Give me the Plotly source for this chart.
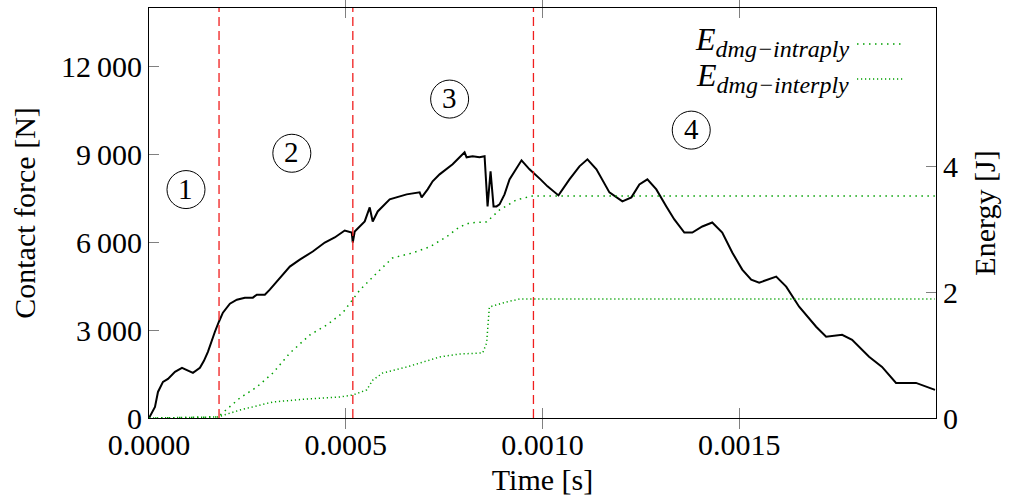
import plotly.graph_objects as go

# ---------------- data ----------------
force_t = [0, 15.2e-6, 22.8e-6, 35.5e-6, 48.2e-6, 66e-6, 83.8e-6, 99e-6, 111.7e-6, 129.4e-6,
           139.6e-6, 149.7e-6, 159.9e-6, 167.5e-6, 177.7e-6, 187.8e-6, 205.6e-6, 223.3e-6, 243.6e-6, 264e-6,
           274e-6, 294.4e-6, 307e-6, 332.5e-6, 357.9e-6, 383.2e-6, 416.2e-6, 446.7e-6, 472e-6, 497.4e-6,
           515.2e-6, 517.8e-6, 522.8e-6, 548.2e-6, 555.8e-6, 560.9e-6, 568.5e-6, 581.2e-6, 611.7e-6, 654.8e-6,
           687.8e-6, 692.9e-6, 708.1e-6, 720.8e-6, 738.5e-6, 756.3e-6, 771.6e-6, 789.3e-6, 802e-6, 807.1e-6,
           822.3e-6, 840e-6, 852.8e-6, 860.4e-6, 868e-6, 875.6e-6, 883.2e-6, 890.8e-6, 903.5e-6, 916.2e-6,
           931.5e-6, 946.7e-6, 967e-6, 982.2e-6, 994.9e-6, 1012.7e-6, 1030.4e-6, 1040.6e-6, 1068.5e-6, 1093.9e-6,
           1114.2e-6, 1137.1e-6, 1170e-6, 1203e-6, 1225.9e-6, 1246.2e-6, 1266.5e-6, 1289.3e-6, 1314.7e-6, 1335e-6,
           1360.4e-6, 1380.7e-6, 1406.1e-6, 1431.4e-6, 1456.8e-6, 1482.2e-6, 1507.6e-6, 1530.4e-6, 1550.7e-6, 1571e-6,
           1593.9e-6, 1619.3e-6, 1652.2e-6, 1695.4e-6, 1720.8e-6, 1761.4e-6, 1786.8e-6, 1829.9e-6, 1862.9e-6, 1898.4e-6,
           1949.2e-6, 1997.5e-6]
force_N = [0, 377, 890, 1233, 1335, 1575, 1712, 1609, 1541, 1712,
           1952, 2260, 2671, 2945, 3287, 3595, 3903, 4040, 4109, 4109,
           4212, 4212, 4383, 4794, 5170, 5410, 5684, 5992, 6163, 6403,
           6334, 5992, 6369, 6711, 6985, 7190, 6711, 7053, 7464, 7636,
           7704, 7533, 7807, 8081, 8320, 8492, 8663, 8902, 9074, 8902,
           8937, 8902, 8937, 7225, 8423, 7225, 7225, 7293, 7636, 8149,
           8492, 8800, 8492, 8320, 8149, 7909, 7704, 7601, 8149, 8594,
           8834, 8492, 7704, 7396, 7533, 7978, 8149, 7807, 7225, 6780,
           6334, 6334, 6540, 6677, 6334, 5650, 5068, 4725, 4622, 4725,
           4828, 4485, 3801, 3116, 2773, 2842, 2671, 2089, 1746, 1198,
           1198, 959]

intra_t = [0, 175e-6, 231e-6, 274e-6, 315e-6, 358e-6, 409e-6, 452e-6, 492e-6, 518e-6,
           536e-6, 579e-6, 619e-6, 670e-6, 713e-6, 756e-6, 789e-6, 815e-6, 858e-6, 891e-6,
           934e-6, 975e-6, 1997e-6]
intra_E = [0, 0.016, 0.318, 0.493, 0.716, 1.034, 1.321, 1.480, 1.671, 1.877,
           2.037, 2.307, 2.546, 2.625, 2.721, 2.880, 3.039, 3.103, 3.119, 3.309,
           3.469, 3.532, 3.532]

inter_t = [0, 175e-6, 231e-6, 315e-6, 401e-6, 485e-6, 518e-6, 553e-6, 569e-6, 594e-6,
           655e-6, 695e-6, 739e-6, 789e-6, 848e-6, 858e-6, 865e-6, 909e-6, 942e-6, 1997e-6]
inter_E = [0, 0.016, 0.127, 0.255, 0.302, 0.334, 0.366, 0.446, 0.605, 0.716,
           0.811, 0.891, 0.971, 1.018, 1.034, 1.193, 1.766, 1.846, 1.893, 1.893]

phase_bounds = [0.000178, 0.000518, 0.000977]
phase_labels = ["1", "2", "3", "4"]
phase_label_t = [0.000094, 0.000363, 0.000764, 0.001378]
phase_label_F = [7800, 9040, 10890, 9830]

legend_names = ["<i>E</i><sub><i><span style='font-size:24px'>dmg\u2212intraply</span></i></sub>",
                "<i>E</i><sub><i><span style='font-size:24px'>dmg\u2212interply</span></i></sub>"]

x_ticks = [0, 0.0005, 0.0010, 0.0015]
f_ticks = [0, 3000, 6000, 9000, 12000]
e_ticks = [0, 2, 4]

# ---------------- figure ----------------
FONT = "Liberation Serif"
TICK_FS = 30
TITLE_FS = 30
GREEN = "rgb(0,160,0)"
INTRA_DASH = "1.5px,4.5px"
INTER_DASH = "1.2px,2.8px"

fig = go.Figure()
fig.add_trace(go.Scatter(x=intra_t, y=intra_E, yaxis="y2", mode="lines",
                         line=dict(color=GREEN, width=1.5, dash=INTRA_DASH), name="intra"))
fig.add_trace(go.Scatter(x=inter_t, y=inter_E, yaxis="y2", mode="lines",
                         line=dict(color=GREEN, width=1.5, dash=INTER_DASH), name="inter"))
fig.add_trace(go.Scatter(x=force_t, y=force_N, mode="lines",
                         line=dict(color="black", width=2), name="force"))

shapes = []
for b in phase_bounds:
    shapes.append(dict(type="line", xref="x", yref="paper", x0=b, x1=b, y0=0, y1=1,
                       line=dict(color="rgb(240,30,30)", width=1.3, dash="9px,5px")))
annotations = []
for lab, t, F in zip(phase_labels, phase_label_t, phase_label_F):
    shapes.append(dict(type="circle", xref="x", yref="y", xsizemode="pixel", ysizemode="pixel",
                       xanchor=t, yanchor=F, x0=-19, x1=19, y0=-19, y1=19,
                       line=dict(color="black", width=1)))
    annotations.append(dict(x=t, y=F, xref="x", yref="y", text=lab, showarrow=False,
                            font=dict(family=FONT, size=29, color="black"), yshift=1))

# manual legend (text left of sample line)
leg_y = [(418 - 44) / 410, (418 - 79) / 410]
for name, yy, dash in zip(legend_names, leg_y, [INTRA_DASH, INTER_DASH]):
    annotations.append(dict(x=(851 - 149) / 787, y=yy, xref="paper", yref="paper", text=name,
                            showarrow=False, xanchor="right", yanchor="middle", yshift=2,
                            font=dict(family=FONT, size=32, color="black")))
    shapes.append(dict(type="line", xref="paper", yref="paper",
                       x0=(857 - 149) / 787, x1=(904 - 149) / 787, y0=yy, y1=yy,
                       line=dict(color=GREEN, width=1.5, dash=dash)))

axis_common = dict(ticks="inside", ticklen=10, tickcolor="gray", tickwidth=1,
                   showline=True, linecolor="black", linewidth=1,
                   showgrid=False, zeroline=False,
                   tickfont=dict(family=FONT, size=TICK_FS, color="black"))
title_font = dict(family=FONT, size=TITLE_FS, color="black")

fig.update_layout(
    width=1013, height=499,
    margin=dict(l=149, r=77, t=8, b=81),
    paper_bgcolor="white", plot_bgcolor="white",
    showlegend=False,
    separators=".\u2009",
    font=dict(family=FONT, size=TITLE_FS, color="black"),
    shapes=shapes, annotations=annotations,
    xaxis=dict(range=[0, 0.002], tickvals=x_ticks, tickformat=".4f", mirror="allticks",
               title=dict(text="Time [s]", standoff=8, font=title_font),
               **axis_common),
    yaxis=dict(range=[0, 14000], tickvals=f_ticks, tickformat=",d",
               title=dict(text="Contact force [N]", standoff=16, font=title_font),
               **axis_common),
    yaxis2=dict(range=[0, 6.52], tickvals=e_ticks, overlaying="y", side="right",
                title=dict(text="Energy [J]", standoff=16, font=title_font),
                **axis_common),
)

fig.write_html("out.html")
